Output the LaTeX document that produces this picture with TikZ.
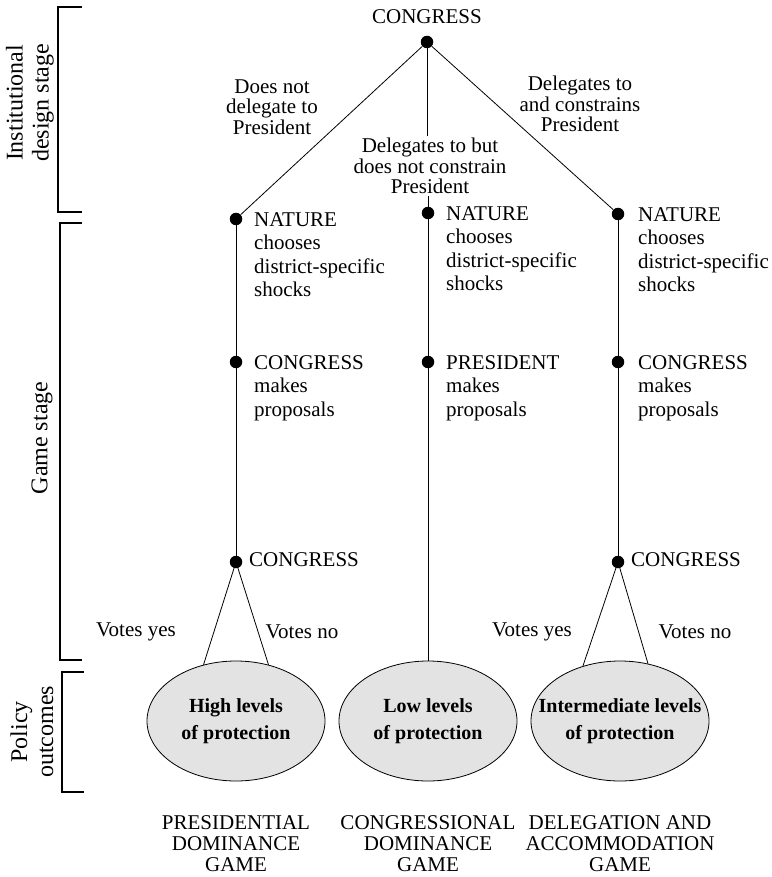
\documentclass[tikz,border=0pt]{standalone}
\usepackage{fontspec}
\setmainfont{Liberation Serif}
\usetikzlibrary{shapes.geometric}
\begin{document}
\begin{tikzpicture}[x=1pt,y=-1pt,
  font=\fontsize{21}{23.5}\selectfont,
  dot/.style={circle,fill=black,inner sep=0pt,minimum size=12.5pt},
  tree/.style={line width=0.8pt},
  brk/.style={line width=1.4pt},
  coltext/.style={anchor=north west,align=left,inner sep=0pt},
  brlabel/.style={align=center,inner sep=2pt,font=\fontsize{21}{20.5}\selectfont},
  outcome/.style={ellipse,draw,line width=0.8pt,fill=gray!22,minimum width=178pt,minimum height=120pt,inner sep=0pt},
  outtext/.style={align=center,inner sep=0pt,font=\fontsize{20}{27}\selectfont\bfseries},
  gamelabel/.style={anchor=north,align=center,inner sep=0pt,font=\fontsize{21}{21}\selectfont},
  stagelabel/.style={rotate=90,align=center,inner sep=0pt,font=\fontsize{24}{26}\selectfont}]
\useasboundingbox (0,0) rectangle (771,877);

% brackets
\draw[brk] (82,7) -- (58,7) -- (58,212) -- (82,212);
\draw[brk] (82,223) -- (60,223) -- (60,660) -- (82,660);
\draw[brk] (84,672) -- (62,672) -- (62,792) -- (84,792);
\node[stagelabel] (s1) at (30,103) {Institutional\\design stage};
\node[stagelabel] (s2) at (42,438) {Game stage};
\node[stagelabel] (s3) at (32,732) {Policy\\outcomes};

% root
\node[dot] (c0) at (427,42) {};
\node[anchor=south,inner sep=0pt] (c0t) at (427,24) {CONGRESS};

% nature nodes
\node[dot] (n1) at (236,219) {};
\node[dot] (n2) at (428,213) {};
\node[dot] (n3) at (618,214) {};
\node[coltext] (n1t) at (254,212) {NATURE\\chooses\\district-specific\\shocks};
\node[coltext] (n2t) at (446,206) {NATURE\\chooses\\district-specific\\shocks};
\node[coltext] (n3t) at (638,207) {NATURE\\chooses\\district-specific\\shocks};

% branch labels
\node[brlabel] (b1) at (272,107) {Does not\\delegate to\\President};
\node[brlabel] (b2) at (430,166) {Delegates to but\\does not constrain\\President};
\node[brlabel] (b3) at (580,104) {Delegates to\\and constrains\\President};

\draw[tree] (c0) -- (n1);
\draw[tree] (c0) -- (n3);
\draw[tree] (c0) -- (c0 |- b2.north);
\draw[tree] (n2 |- b2.south) -- (n2);

% proposal nodes
\node[dot] (p1) at (236,362) {};
\node[dot] (p2) at (428,362) {};
\node[dot] (p3) at (618,362) {};
\node[coltext] (p1t) at (254,355) {CONGRESS\\makes\\proposals};
\node[coltext] (p2t) at (446,355) {PRESIDENT\\makes\\proposals};
\node[coltext] (p3t) at (638,355) {CONGRESS\\makes\\proposals};

% vote nodes
\node[dot] (v1) at (236,562) {};
\node[dot] (v3) at (618,562) {};
\node[anchor=west,inner sep=0pt] (v1t) at (249,560) {CONGRESS};
\node[anchor=west,inner sep=0pt] (v3t) at (631,560) {CONGRESS};

% outcomes
\node[outcome] (o1) at (236,721) {};
\node[outcome] (o2) at (428,721) {};
\node[outcome] (o3) at (620,721) {};
\node[outtext] (o1t) at (o1) {High levels\\of protection};
\node[outtext] (o2t) at (o2) {Low levels\\of protection};
\node[outtext] (o3t) at (o3) {Intermediate levels\\of protection};

\draw[tree] (n1) -- (p1);
\draw[tree] (p1) -- (v1);
\draw[tree] (n2) -- (p2);
\draw[tree] (p2) -- (o2.north);
\draw[tree] (n3) -- (p3);
\draw[tree] (p3) -- (v3);
\draw[tree] (v1) -- (o1.120);
\draw[tree] (v1) -- (o1.60);
\draw[tree] (v3) -- (o3.124);
\draw[tree] (v3) -- (o3.64);

\node (y1) at (136,632) {Votes yes};
\node (x1) at (302,632) {Votes no};
\node (y3) at (532,632) {Votes yes};
\node (x3) at (695,632) {Votes no};

% game labels
\node[gamelabel] (g1) at (236,815) {PRESIDENTIAL\\DOMINANCE\\GAME};
\node[gamelabel] (g2) at (428,815) {CONGRESSIONAL\\DOMINANCE\\GAME};
\node[gamelabel] (g3) at (620,815) {DELEGATION AND\\ACCOMMODATION\\GAME};
\end{tikzpicture}
\end{document}
